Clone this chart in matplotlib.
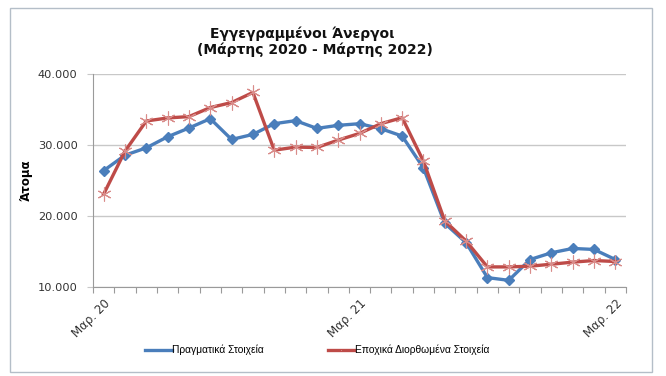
import matplotlib
matplotlib.use("Agg")
import matplotlib.pyplot as plt
from matplotlib.patches import Rectangle
from matplotlib.ticker import FuncFormatter, FixedLocator

# Data (monthly, Mar 2020 - Mar 2022)
months = list(range(25))
tick_pos = [0, 12, 24]
tick_labels = ["Μαρ. 20", "Μαρ. 21", "Μαρ. 22"]

actual = [26390, 28560, 29600, 31160, 32390, 33710, 30780, 31490, 33000,
          33430, 32340, 32770, 33000, 32300, 31260, 26770, 18970, 16240,
          11320, 10940, 13870, 14820, 15430, 15290, 13870]
seasonal = [23080, 29130, 33380, 33810, 34000, 35270, 35980, 37400, 29270,
            29700, 29650, 30690, 31630, 33000, 33850, 27710, 19310, 16470,
            12830, 12830, 12930, 13210, 13500, 13730, 13590]

label_actual = "Πραγματικά Στοιχεία"
label_seasonal = "Εποχικά Διορθωμένα Στοιχεία"

W, H = 666, 376
fig = plt.figure(figsize=(W / 100, H / 100), dpi=100)
fig.patch.set_facecolor("white")

# chart border
fig.patches.append(Rectangle((10 / W, 1 - 372 / H), 642 / W, 364 / H,
                             transform=fig.transFigure, fill=False,
                             edgecolor="#b4bec8", linewidth=1.0))

ax = fig.add_axes([93 / W, 1 - 287 / H, 533 / W, 213 / H])

ax.plot(months, actual, color="#4a7ebb", linewidth=2.4, marker="D",
        markersize=5, markerfacecolor="#4a7ebb", markeredgecolor="#4a7ebb",
        label=label_actual, zorder=3)
ax.plot(months, seasonal, color="#be4b48", linewidth=2.4, marker=(6, 2, 0),
        markersize=10, markeredgecolor="#d98c8a", markeredgewidth=0.8,
        label=label_seasonal, zorder=4)

ax.set_xlim(-0.5, 24.5)
ax.set_ylim(10000, 40000)
ax.set_yticks([10000, 20000, 30000, 40000])
ax.yaxis.set_major_formatter(FuncFormatter(lambda v, p: "{:,}".format(int(v)).replace(",", ".")))
ax.grid(axis="y", color="#c8c8c8", linewidth=1.0)
ax.set_axisbelow(True)

ax.xaxis.set_major_locator(FixedLocator(tick_pos))
ax.set_xticklabels(tick_labels, rotation=45, ha="right", va="top",
                   rotation_mode="anchor", fontsize=8.5, color="#333333")
ax.tick_params(axis="x", which="major", length=0, pad=7)
ax.xaxis.set_minor_locator(FixedLocator([i - 0.5 for i in range(26)]))
ax.tick_params(axis="x", which="minor", length=4, color="#9a9a9a", width=0.8)
ax.tick_params(axis="y", length=4, color="#c8c8c8", labelsize=8.2,
               labelcolor="#333333", pad=7)

for s in ["top", "right"]:
    ax.spines[s].set_visible(False)
for s in ["left", "bottom"]:
    ax.spines[s].set_color("#9a9a9a")
    ax.spines[s].set_linewidth(0.8)

ax.set_ylabel("Άτομα", fontsize=8.5, fontweight="bold", labelpad=4)

fig.text(210 / W, 1 - 34 / H, "Εγγεγραμμένοι Άνεργοι", fontsize=10,
         fontweight="bold", ha="left", va="center", color="#111111")
fig.text(197 / W, 1 - 50 / H, "(Μάρτης 2020 - Μάρτης 2022)", fontsize=10,
         fontweight="bold", ha="left", va="center", color="#111111")

fig.legend(loc="center left", bbox_to_anchor=(145 / W, 1 - 350 / H), ncol=2,
           frameon=False, prop={"family": "Liberation Sans", "size": 7.4},
           columnspacing=6.2, handlelength=2.6, handletextpad=0.05,
           markerscale=0.01, borderpad=0, borderaxespad=0)

fig.savefig("out.png", dpi=100)
